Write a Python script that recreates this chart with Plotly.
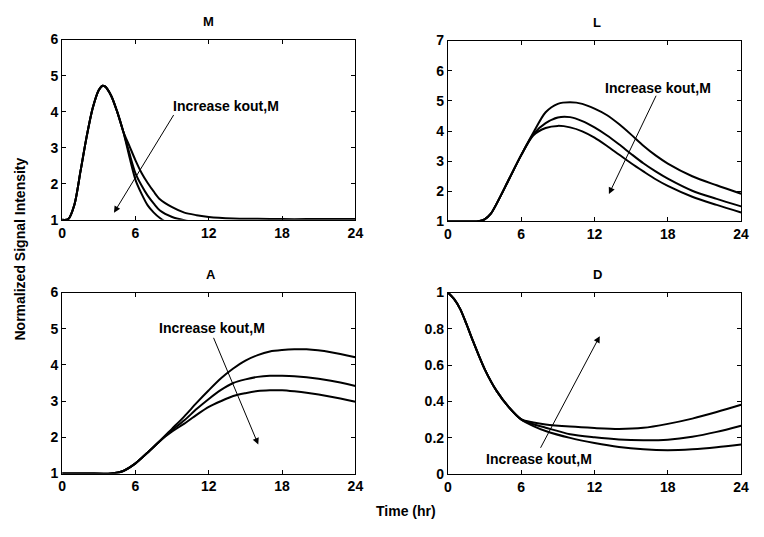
import plotly.graph_objects as go

# ---------------- data ----------------
t_M = [0, 0.5, 1, 1.5, 2, 2.5, 3, 3.3, 3.5, 4, 4.5, 5, 5.5, 6, 6.5, 7, 7.5, 8, 9, 10, 11, 12, 14, 16, 18, 20, 22, 24]
M_low = [1.0, 1.02, 1.42, 2.35, 3.3, 4.1, 4.6, 4.72, 4.7, 4.45, 4.0, 3.45,
         3.05, 2.65, 2.3, 2.02, 1.78, 1.57, 1.35, 1.2, 1.13, 1.08, 1.04, 1.03, 1.02, 1.02, 1.02, 1.02]
M_mid = [1.0, 1.02, 1.42, 2.35, 3.3, 4.1, 4.6, 4.72, 4.7, 4.45, 4.0, 3.45,
         2.85, 2.29, 1.95, 1.67, 1.45, 1.26, 1.08, 0.99, 0.93, 0.9, 0.88, 0.88, 0.88, 0.88, 0.88, 0.88]
M_high = [1.0, 1.02, 1.42, 2.35, 3.3, 4.1, 4.6, 4.72, 4.7, 4.45, 4.0, 3.45,
          2.75, 2.11, 1.72, 1.4, 1.2, 1.05, 0.85, 0.75, 0.7, 0.68, 0.66, 0.65, 0.65, 0.65, 0.65, 0.65]

t_L = [0, 1, 2, 2.5, 3, 3.5, 4, 5, 6, 7, 8, 9, 10, 11, 12, 13, 14, 15, 16, 17, 18, 20, 22, 24]
L_low = [1.0, 1.0, 1.0, 1.01, 1.07, 1.25, 1.6, 2.4, 3.2, 3.95, 4.62, 4.9, 4.95, 4.9, 4.74, 4.53,
         4.23, 3.88, 3.51, 3.19, 2.92, 2.5, 2.2, 1.92]
L_mid = [1.0, 1.0, 1.0, 1.01, 1.07, 1.25, 1.6, 2.4, 3.2, 3.9, 4.26, 4.45, 4.46, 4.33, 4.12, 3.86,
         3.56, 3.24, 2.93, 2.66, 2.42, 2.02, 1.75, 1.5]
L_high = [1.0, 1.0, 1.0, 1.01, 1.07, 1.25, 1.6, 2.4, 3.2, 3.86, 4.1, 4.17, 4.12, 3.99, 3.78, 3.51,
          3.22, 2.93, 2.66, 2.4, 2.18, 1.82, 1.55, 1.3]

t_A = [0, 2, 4, 5, 6, 7, 8, 9, 10, 11, 12, 13, 14, 15, 16, 17, 18, 19, 20, 22, 24]
A_low = [1.0, 1.0, 1.0, 1.07, 1.28, 1.58, 1.9, 2.24, 2.58, 2.95, 3.3, 3.63, 3.9, 4.12, 4.27,
         4.37, 4.41, 4.43, 4.43, 4.35, 4.21]
A_mid = [1.0, 1.0, 1.0, 1.07, 1.28, 1.58, 1.9, 2.2, 2.47, 2.78, 3.06, 3.31, 3.5, 3.6, 3.67,
         3.7, 3.7, 3.69, 3.66, 3.56, 3.42]
A_high = [1.0, 1.0, 1.0, 1.07, 1.28, 1.58, 1.9, 2.16, 2.38, 2.62, 2.84, 3.0, 3.14, 3.22, 3.28,
          3.3, 3.3, 3.27, 3.23, 3.12, 2.98]

t_D = [0, 0.5, 1, 1.5, 2, 3, 4, 5, 6, 7, 8, 10, 12, 14, 16, 18, 20, 22, 24]
D_low = [1.0, 0.965, 0.91, 0.83, 0.742, 0.58, 0.457, 0.368, 0.302,
         0.265, 0.238, 0.2, 0.172, 0.15, 0.137, 0.132, 0.137, 0.148, 0.163]
D_mid = [1.0, 0.965, 0.91, 0.83, 0.742, 0.58, 0.457, 0.368, 0.302,
         0.275, 0.256, 0.22, 0.203, 0.191, 0.187, 0.19, 0.206, 0.233, 0.267]
D_high = [1.0, 0.965, 0.91, 0.83, 0.742, 0.58, 0.457, 0.368, 0.302,
          0.285, 0.274, 0.262, 0.254, 0.249, 0.255, 0.277, 0.306, 0.342, 0.382]

x_ticks = [0, 6, 12, 18, 24]
panel_titles = ["M", "L", "A", "D"]
arrow_text = "Increase kout,M"
x_label = "Time (hr)"
y_label = "Normalized Signal Intensity"

# ---------------- figure ----------------
FONT = "Liberation Sans, Arial, sans-serif"
OFF = 8          # page body margin
W, H = 764 - 2 * OFF, 537 - 2 * OFF

def px(p):
    return (p - OFF) / W

def py(p):
    return 1 - (p - OFF) / H

fig = go.Figure()
panels = [
    ("x", "y", t_M, [M_low, M_mid, M_high]),
    ("x2", "y2", t_L, [L_low, L_mid, L_high]),
    ("x3", "y3", t_A, [A_low, A_mid, A_high]),
    ("x4", "y4", t_D, [D_low, D_mid, D_high]),
]
for xa, ya, t, series in panels:
    for s in series:
        fig.add_trace(go.Scatter(x=t, y=s, xaxis=xa, yaxis=ya, mode="lines",
                                 line=dict(color="black", width=2, shape="spline", smoothing=0.8),
                                 showlegend=False, hoverinfo="skip"))

xdom_l = [px(59), px(357)]
xdom_r = [px(451), px(749)]

ax_common = dict(showline=True, linecolor="black", linewidth=1, mirror="allticks",
                 ticks="inside", ticklen=4, tickcolor="black", showgrid=False, zeroline=False,
                 tickfont=dict(family=FONT, size=14, color="black", weight="bold"))

def xax(dom, anchor):
    return dict(domain=dom, anchor=anchor, range=[0, 24], tickvals=x_ticks, **ax_common)

def yax(top, bottom, anchor, rng, dt):
    return dict(domain=[py(bottom), py(top)], anchor=anchor, range=rng, dtick=dt, tick0=0, **ax_common)

fig.update_layout(
    width=W, height=H,
    margin=dict(l=0, r=0, t=0, b=0),
    paper_bgcolor="white", plot_bgcolor="white",
    xaxis=xax(xdom_l, "y"), yaxis=yax(32.3, 218.3, "x", [1, 6], 1),
    xaxis2=xax(xdom_r, "y2"), yaxis2=yax(33.3, 220, "x2", [1, 7], 1),
    xaxis3=xax(xdom_l, "y3"), yaxis3=yax(293.3, 480, "x3", [1, 6], 1),
    xaxis4=xax(xdom_r, "y4"), yaxis4=yax(293.3, 480.7, "x4", [0, 1], 0.2),
)

title_font = dict(family=FONT, size=13, color="black", weight="bold")
lab_font = dict(family=FONT, size=14, color="black", weight="bold")
anns = []
for txt, xc, yc in [(panel_titles[0], 208, 14), (panel_titles[1], 603, 15),
                    (panel_titles[2], 210, 275), (panel_titles[3], 603, 275)]:
    anns.append(dict(text=txt, xref="paper", yref="paper", x=px(xc), y=py(yc),
                     showarrow=False, font=title_font, xanchor="center", yanchor="middle"))
anns.append(dict(text=x_label, xref="paper", yref="paper", x=px(408), y=py(519),
                 showarrow=False, font=lab_font, xanchor="center", yanchor="middle"))
anns.append(dict(text=y_label, xref="paper", yref="paper", x=px(16), y=py(248),
                 showarrow=False, font=lab_font, textangle=-90, xanchor="center", yanchor="middle"))

# (xref, yref, text_x, text_y, tail_x, tail_y, head_x, head_y)
arrows = [
    ("x", "y", 13.37, 4.17, 9.2, 3.95, 4.24, 1.2),
    ("x2", "y2", 17.2, 5.43, 17.1, 5.22, 13.18, 1.91),
    ("x3", "y3", 12.26, 5.01, 12.34, 4.79, 16.05, 1.8),
    ("x4", "y4", 7.46, 0.084, 7.52, 0.137, 12.43, 0.76),
]
for xr, yr, tx, ty, axx, ayy, hx, hy in arrows:
    anns.append(dict(text=arrow_text, xref=xr, yref=yr, x=tx, y=ty, showarrow=False,
                     font=dict(family=FONT, size=14, color="black", weight="bold"),
                     xanchor="center", yanchor="middle"))
    anns.append(dict(text="", xref=xr, yref=yr, x=hx, y=hy, axref=xr, ayref=yr, ax=axx, ay=ayy,
                     showarrow=True, arrowhead=2, arrowsize=1.3, arrowwidth=1, arrowcolor="black",
                     standoff=0, startstandoff=0))

fig.update_layout(annotations=anns)
fig.write_html("out.html")
